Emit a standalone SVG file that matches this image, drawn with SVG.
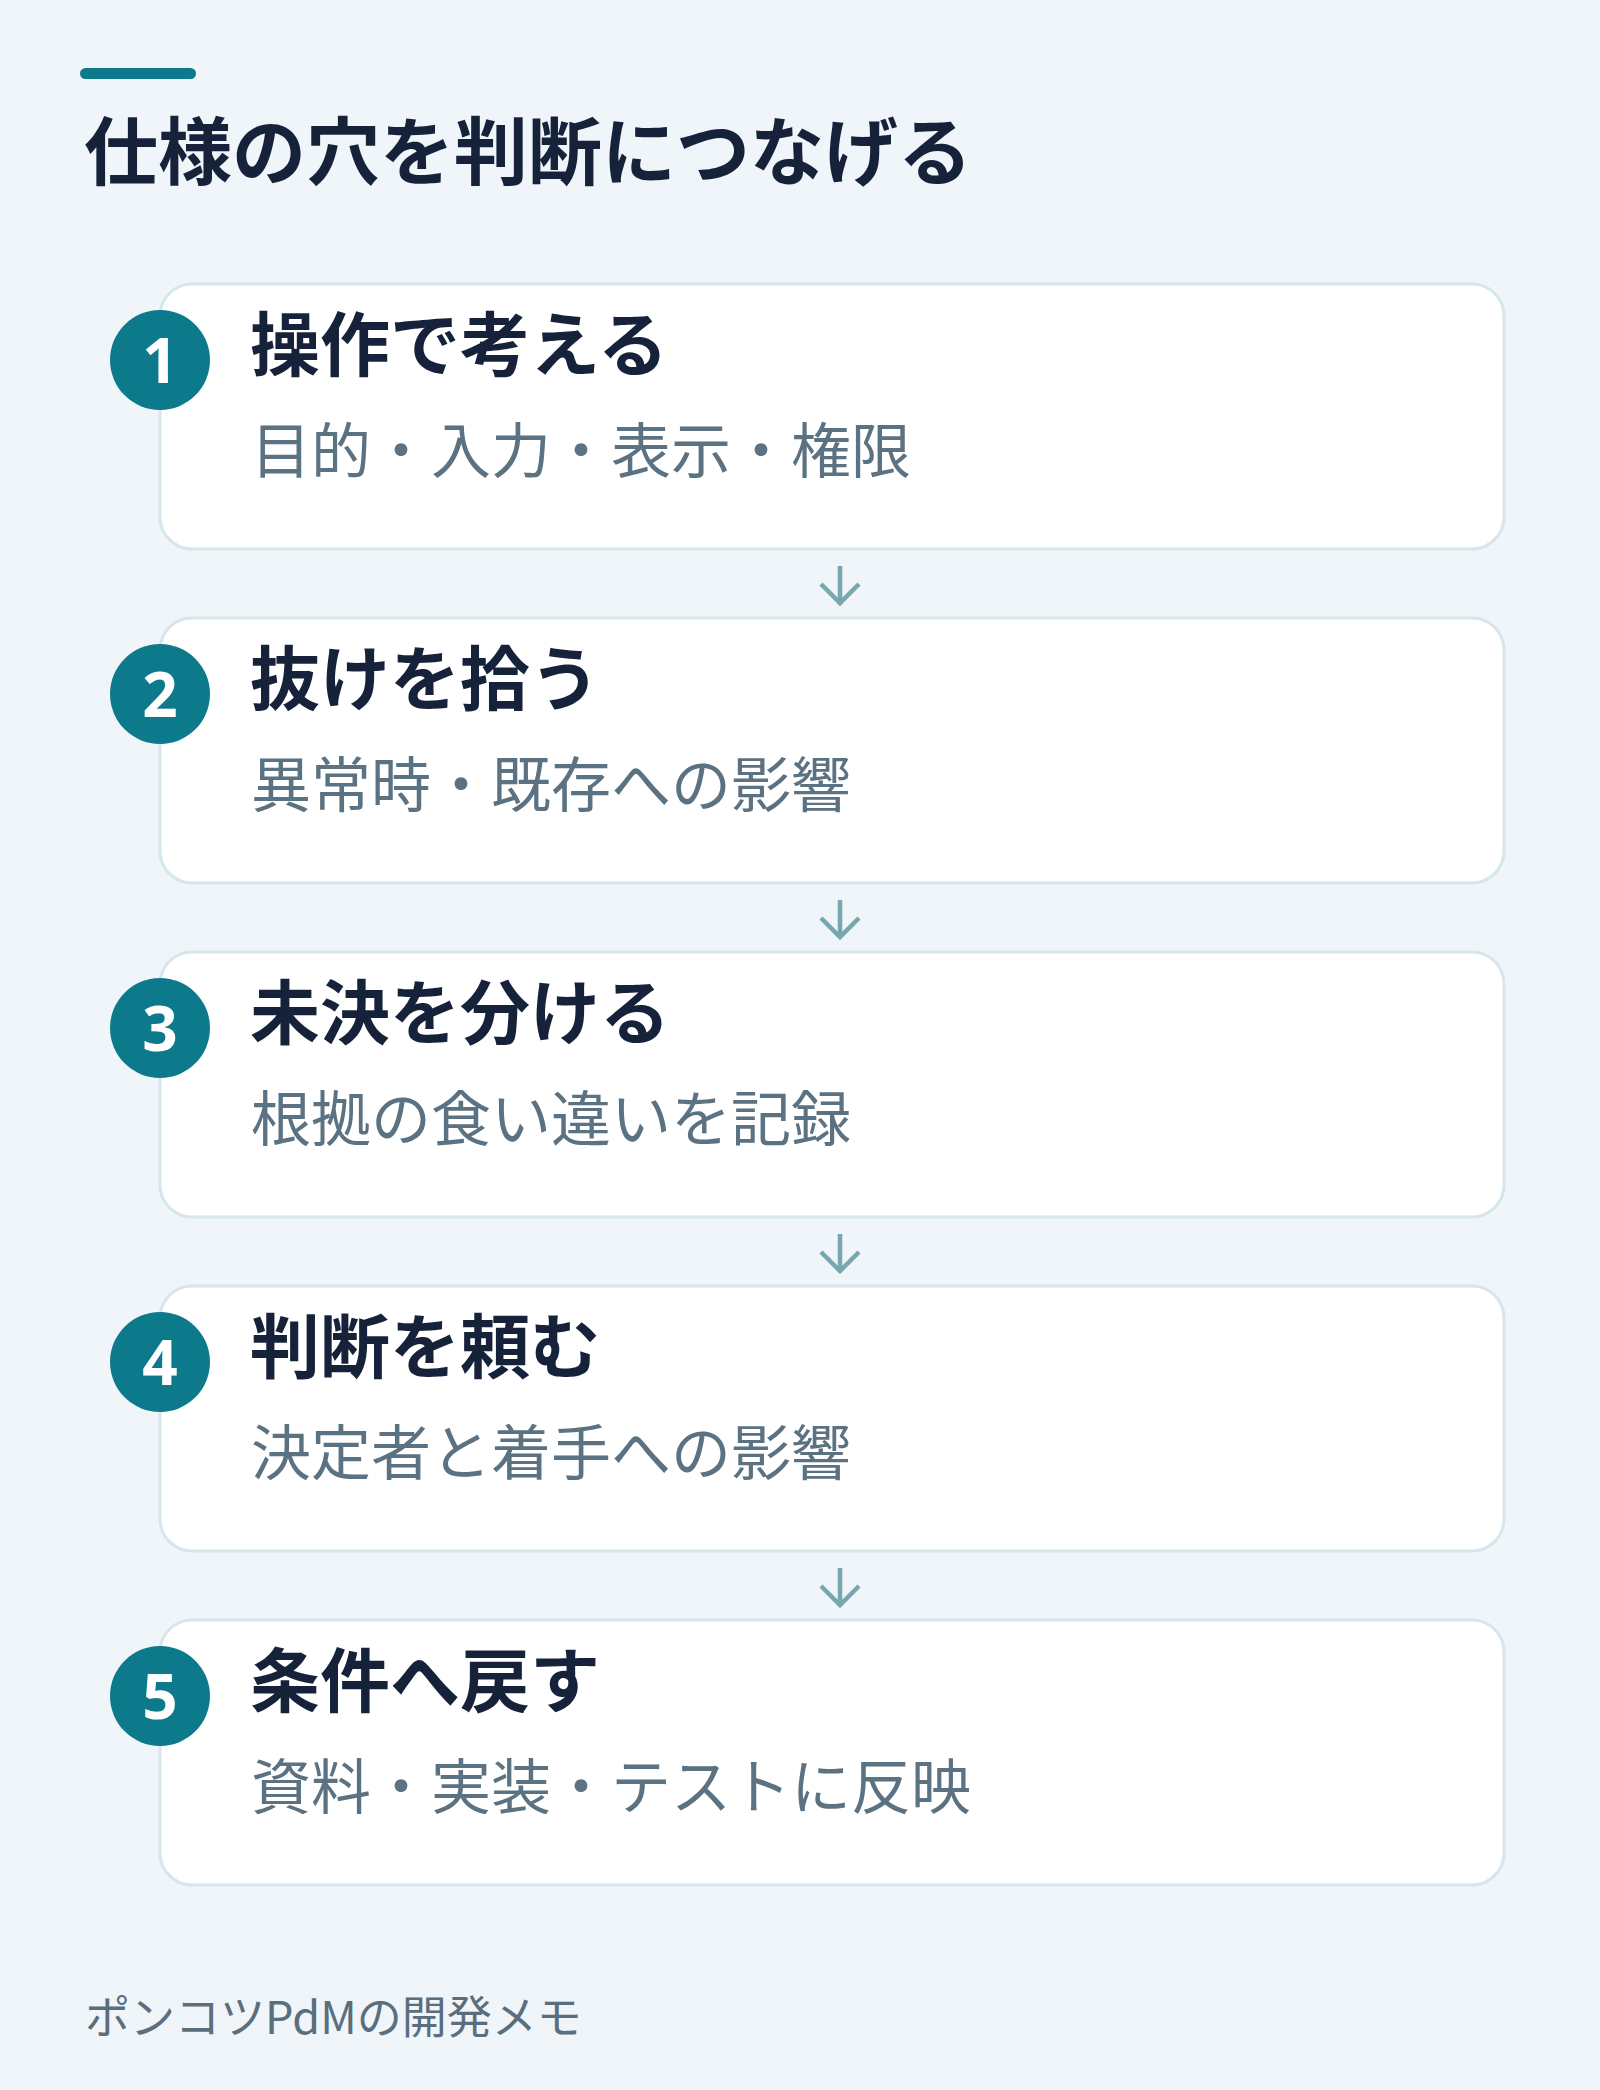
<svg xmlns="http://www.w3.org/2000/svg" width="1600" height="2090" viewBox="0 0 1600 2090">
<defs>
<style>
.card{fill:#ffffff;stroke:#d7e6ed;stroke-width:3}
.badge{fill:#0c7a8b}
.num{font-family:"Noto Sans","Inter","Liberation Sans",sans-serif;font-weight:700;font-size:62px;fill:#ffffff;text-anchor:middle}
.head{font-family:"Noto Sans CJK JP","Noto Sans CJK SC",sans-serif;font-weight:700;font-size:70px;fill:#16213a}
.sub{font-family:"Noto Sans CJK JP","Noto Sans CJK SC",sans-serif;font-weight:400;font-size:60px;fill:#5b7282}
.arrow{fill:none;stroke:#78a7b0;stroke-width:4.5;stroke-linecap:butt;stroke-linejoin:miter}
</style>
</defs>
<rect x="0" y="0" width="1600" height="2090" fill="#eff5f9"/>
<g id="header">
<rect x="80" y="68" width="116" height="11" rx="5.5" fill="#0c7a8b"/>
<text x="84" y="179" font-family="&quot;Noto Sans CJK JP&quot;,&quot;Noto Sans CJK SC&quot;,sans-serif" font-weight="700" font-size="74" fill="#16213a">仕様の穴を判断につなげる</text>
</g>
<g id="connectors">
<path class="arrow" d="M840 566V603M821 584L840 603L859 584"/>
<path class="arrow" d="M840 900V937M821 918L840 937L859 918"/>
<path class="arrow" d="M840 1234V1271M821 1252L840 1271L859 1252"/>
<path class="arrow" d="M840 1568V1605M821 1586L840 1605L859 1586"/>
</g>
<g id="step1">
<rect class="card" x="160" y="284" width="1344" height="265" rx="32"/>
<circle class="badge" cx="160" cy="360" r="50"/>
<text class="num" x="160" y="383">1</text>
<text class="head" x="250" y="371">操作で考える</text>
<text class="sub" x="251" y="473">目的・入力・表示・権限</text>
</g>
<g id="step2">
<rect class="card" x="160" y="618" width="1344" height="265" rx="32"/>
<circle class="badge" cx="160" cy="694" r="50"/>
<text class="num" x="160" y="717">2</text>
<text class="head" x="250" y="705">抜けを拾う</text>
<text class="sub" x="251" y="807">異常時・既存への影響</text>
</g>
<g id="step3">
<rect class="card" x="160" y="952" width="1344" height="265" rx="32"/>
<circle class="badge" cx="160" cy="1028" r="50"/>
<text class="num" x="160" y="1051">3</text>
<text class="head" x="250" y="1039">未決を分ける</text>
<text class="sub" x="251" y="1141">根拠の食い違いを記録</text>
</g>
<g id="step4">
<rect class="card" x="160" y="1286" width="1344" height="265" rx="32"/>
<circle class="badge" cx="160" cy="1362" r="50"/>
<text class="num" x="160" y="1385">4</text>
<text class="head" x="250" y="1373">判断を頼む</text>
<text class="sub" x="251" y="1475">決定者と着手への影響</text>
</g>
<g id="step5">
<rect class="card" x="160" y="1620" width="1344" height="265" rx="32"/>
<circle class="badge" cx="160" cy="1696" r="50"/>
<text class="num" x="160" y="1719">5</text>
<text class="head" x="250" y="1707">条件へ戻す</text>
<text class="sub" x="251" y="1809">資料・実装・テストに反映</text>
</g>
<g id="footer">
<text x="85" y="2034" font-family="&quot;Noto Sans CJK JP&quot;,&quot;Noto Sans CJK SC&quot;,sans-serif" font-weight="400" font-size="45" fill="#5b6e7e">ポンコツPdMの開発メモ</text>
</g>
</svg>
